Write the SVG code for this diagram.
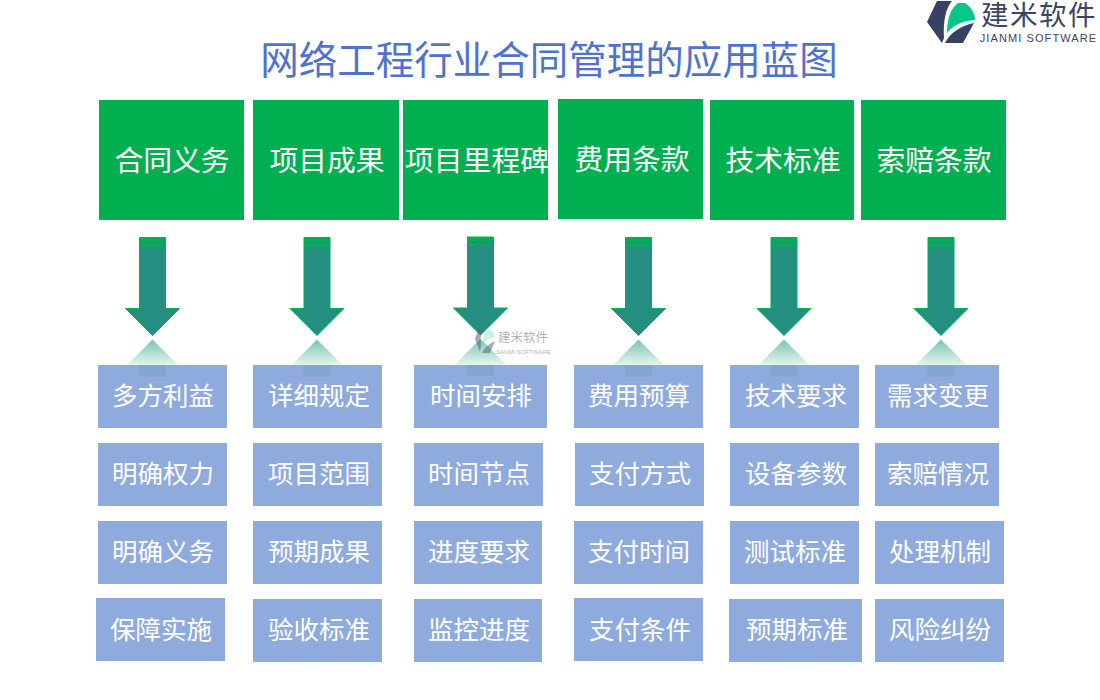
<svg xmlns="http://www.w3.org/2000/svg" width="1100" height="700" viewBox="0 0 1100 700">
<style>
text{font-family:"Noto Sans CJK SC","Liberation Sans",sans-serif;text-anchor:middle}
.h{fill:#00b050}.h+text{fill:#fff;font-size:28.800px}
.b{fill:#8faadc}.b+text{fill:#fff;font-size:25.500px}
.a{fill:#248f80}
.s{fill:#1f8f80;fill-opacity:.12}
</style>
<defs>
<linearGradient id="r" x1="0" y1="0" x2="0" y2="1"><stop offset="0" stop-color="#1f9c80" stop-opacity=".6"/><stop offset="1" stop-color="#1f9c80" stop-opacity=".1"/></linearGradient>
<g id="ar">
<path class="a" d="M-13 0H13V71H27L0 98L-27 71H-13Z" stroke="#00b050" stroke-width="1"/>
<rect x="-13" y="0" width="26" height="4" fill="#00b050"/>
<rect x="-13" y="6" width="26" height="3" fill="#00b050"/>
<path d="M-26 128L0 102L26 128Z" fill="url(#r)"/>
<rect x="-13.500" y="128" width="27" height="11" class="s"/>
</g>
</defs>
<rect width="1100" height="700" fill="#fff"/>
<text x="549" y="74" font-size="38.500" fill="#4f72cf">网络工程行业合同管理的应用蓝图</text>
<g id="logo">
<path d="M937 1H952C946 8 943 20 944 38L942 43L927 22Z" fill="#364163"/>
<path d="M947 33C947 20 950 9 958 3H965C971 7 975 13 975 20C962 21 953 25 947 33Z" fill="#08c68a"/>
<path d="M945 43C950 33 960 26 974 23L963 43Z" fill="#364163"/>
<text x="1039" y="25" font-size="27.500" fill="#3a4468" letter-spacing="1.500" style="font-family:'Liberation Sans','Noto Sans CJK SC',sans-serif">建米软件</text>
<text x="1038.500" y="42" font-size="11" fill="#3a4468" letter-spacing="1.100" style="font-family:'Liberation Sans',sans-serif">JIANMI SOFTWARE</text>
</g>
<g id="n1"><rect class="h" x="99" y="100" width="145" height="120"/><text x="172" y="171">合同义务</text></g>
<g id="n2"><rect class="h" x="253" y="100" width="146" height="120"/><text x="327" y="171">项目成果</text></g>
<g id="n3"><rect class="h" x="403" y="100" width="145" height="120"/><text x="477" y="171">项目里程碑</text></g>
<g id="n4"><rect class="h" x="558" y="99" width="145" height="120"/><text x="632" y="170">费用条款</text></g>
<g id="n5"><rect class="h" x="710" y="100" width="144" height="120"/><text x="783" y="171">技术标准</text></g>
<g id="n6"><rect class="h" x="861" y="100" width="145" height="120"/><text x="934" y="171">索赔条款</text></g>
<g id="c1">
<rect class="b" x="98" y="365" width="129" height="63"/><text x="163" y="405">多方利益</text>
<rect class="b" x="98" y="443" width="129" height="63"/><text x="163" y="483">明确权力</text>
<rect class="b" x="98" y="521" width="129" height="63"/><text x="163" y="561">明确义务</text>
<rect class="b" x="96" y="598" width="129" height="63"/><text x="161" y="639">保障实施</text>
</g>
<g id="c2">
<rect class="b" x="253" y="365" width="129" height="63"/><text x="319" y="405">详细规定</text>
<rect class="b" x="253" y="443" width="129" height="63"/><text x="319" y="483">项目范围</text>
<rect class="b" x="253" y="521" width="129" height="63"/><text x="319" y="561">预期成果</text>
<rect class="b" x="253" y="599" width="129" height="63"/><text x="319" y="639">验收标准</text>
</g>
<g id="c3">
<rect class="b" x="414" y="365" width="133" height="63"/><text x="481" y="405">时间安排</text>
<rect class="b" x="414" y="443" width="129" height="63"/><text x="479" y="483">时间节点</text>
<rect class="b" x="414" y="521" width="128" height="63"/><text x="479" y="561">进度要求</text>
<rect class="b" x="414" y="599" width="128" height="63"/><text x="479" y="639">监控进度</text>
</g>
<g id="c4">
<rect class="b" x="574" y="365" width="129" height="63"/><text x="639" y="405">费用预算</text>
<rect class="b" x="575" y="443" width="129" height="63"/><text x="640" y="483">支付方式</text>
<rect class="b" x="574" y="521" width="129" height="63"/><text x="639" y="561">支付时间</text>
<rect class="b" x="574" y="598" width="129" height="63"/><text x="640" y="639">支付条件</text>
</g>
<g id="c5">
<rect class="b" x="730" y="365" width="129" height="63"/><text x="796" y="405">技术要求</text>
<rect class="b" x="730" y="443" width="129" height="63"/><text x="796" y="483">设备参数</text>
<rect class="b" x="730" y="521" width="129" height="63"/><text x="795" y="561">测试标准</text>
<rect class="b" x="729" y="599" width="133" height="63"/><text x="797" y="639">预期标准</text>
</g>
<g id="c6">
<rect class="b" x="875" y="365" width="124" height="63"/><text x="938" y="405">需求变更</text>
<rect class="b" x="875" y="443" width="124" height="63"/><text x="938" y="483">索赔情况</text>
<rect class="b" x="875" y="521" width="129" height="63"/><text x="940" y="561">处理机制</text>
<rect class="b" x="875" y="599" width="129" height="63"/><text x="940" y="639">风险纠纷</text>
</g>
<g id="connectors">
<use href="#ar" x="152.500" y="237.500"/>
<use href="#ar" x="317" y="237.500"/>
<use href="#ar" x="480.500" y="237"/>
<use href="#ar" x="638.500" y="237.500"/>
<use href="#ar" x="784" y="237.500"/>
<use href="#ar" x="941" y="237.500"/>
</g>
<g id="watermark" opacity=".55">
<path d="M479 328H484C481 332 480 338 481 345L480 352L475 339Z" fill="#5c6478"/>
<path d="M483 343C483 336 485 332 488 329H490C493 331 495 334 495 337C490 338 486 340 483 343Z" fill="#a5e6cf"/>
<path d="M482 353C484 348 489 344 495 341L490 353Z" fill="#5c6478"/>
<text x="523" y="342" font-size="12.500" fill="#777">建米软件</text>
<text x="523" y="354" font-size="6" fill="#777" style="font-family:'Liberation Sans',sans-serif">JIANMI SOFTWARE</text>
</g>
</svg>
